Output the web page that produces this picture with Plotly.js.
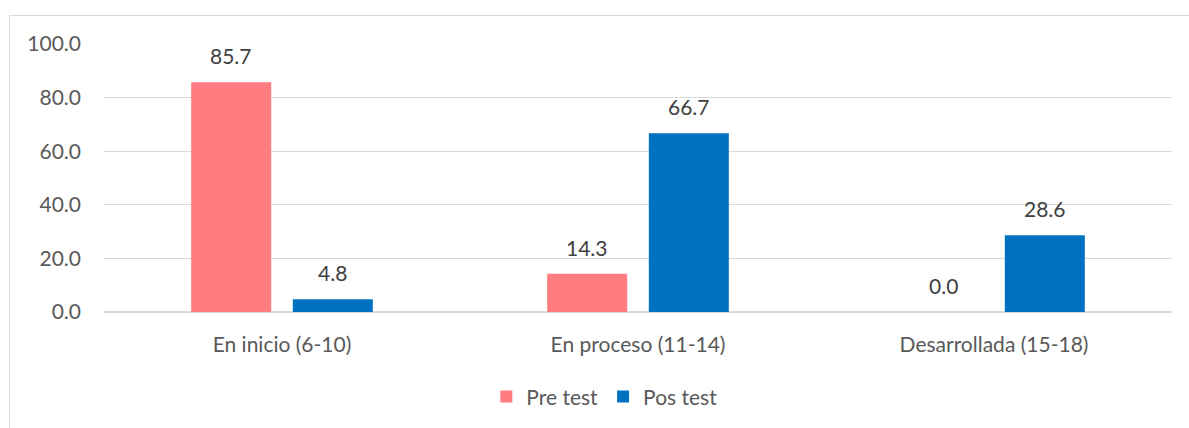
<!DOCTYPE html>
<html>
<head>
<meta charset="utf-8">
<script src="https://cdn.plot.ly/plotly-3.0.1.min.js"></script>
<style>
  html, body { margin: 0; padding: 0; background: #fff; }
  #wrap { position: relative; width: 1189px; height: 428px; overflow: hidden; }
  #frame { position: absolute; left: 9px; top: 15px; width: 1300px; height: 500px; border: 1.5px solid #d9d9d9; box-sizing: border-box; }
  #chart { position: absolute; left: 0; top: 0; width: 1189px; height: 428px; }
</style>
</head>
<body>
<div id="wrap">
  <div id="frame"></div>
  <div id="chart"></div>
</div>
<script>
const categories = ["En inicio (6-10)", "En proceso (11-14)", "Desarrollada (15-18)"];
const preTest = [85.7, 14.3, 0.0];
const posTest = [4.8, 66.7, 28.6];
const seriesNames = ["Pre test", "Pos test"];
const yTicks = [0, 20, 40, 60, 80, 100];

const FONT = "Lato, 'Open Sans', sans-serif";
const SIZE = 21;
const colors = ["#FF7C80", "#0070C0"];

const traces = [preTest, posTest].map((vals, i) => ({
  type: "bar",
  name: seriesNames[i],
  x: categories,
  y: vals,
  marker: { color: colors[i] },
  hoverinfo: "skip"
}));

// data labels as annotations tied to the data
const plotW = 1189 - 104 - 16.5;
const catW = plotW / categories.length;
const bargap = 0.429;
const slot = (1 - bargap) * catW / 2;
const annotations = [];
[preTest, posTest].forEach((vals, i) => {
  vals.forEach((v, j) => {
    annotations.push({
      x: categories[j], y: v, xref: "x", yref: "y",
      text: v.toFixed(1), showarrow: false,
      xanchor: "center", yanchor: "bottom",
      xshift: (i === 0 ? -1 : 1) * slot / 2, yshift: 12,
      font: { family: FONT, size: SIZE, color: "#404040" }
    });
  });
});

const layout = {
  width: 1189, height: 428,
  margin: { l: 104, r: 16.5, t: 43.5, b: 115, pad: 0 },
  paper_bgcolor: "rgba(0,0,0,0)",
  plot_bgcolor: "rgba(0,0,0,0)",
  barmode: "group",
  bargap: bargap,
  bargroupgap: 0.213,
  font: { family: FONT, size: SIZE, color: "#595959" },
  xaxis: {
    type: "category",
    showgrid: false, showline: false, zeroline: false,
    ticks: "", ticklabelstandoff: 18,
    tickfont: { family: FONT, size: SIZE, color: "#595959" },
    fixedrange: true
  },
  yaxis: {
    range: [0, 100],
    tickvals: yTicks,
    ticktext: yTicks.map(v => v.toFixed(1)),
    showgrid: true, gridcolor: "#d9d9d9", gridwidth: 1.3,
    zeroline: true, zerolinecolor: "#d9d9d9", zerolinewidth: 1.3,
    showline: false, ticks: "", ticklabelstandoff: 22,
    tickfont: { family: FONT, size: SIZE, color: "#595959" },
    fixedrange: true
  },
  showlegend: true,
  legend: {
    orientation: "h",
    x: 0.358, xanchor: "left",
    y: -0.312, yanchor: "middle",
    font: { family: FONT, size: SIZE, color: "#595959" },
    itemwidth: 30,
    traceorder: "normal",
    bgcolor: "rgba(0,0,0,0)"
  },
  annotations: annotations
};

Plotly.newPlot("chart", traces, layout, { displayModeBar: false, staticPlot: true });
</script>
</body>
</html>
